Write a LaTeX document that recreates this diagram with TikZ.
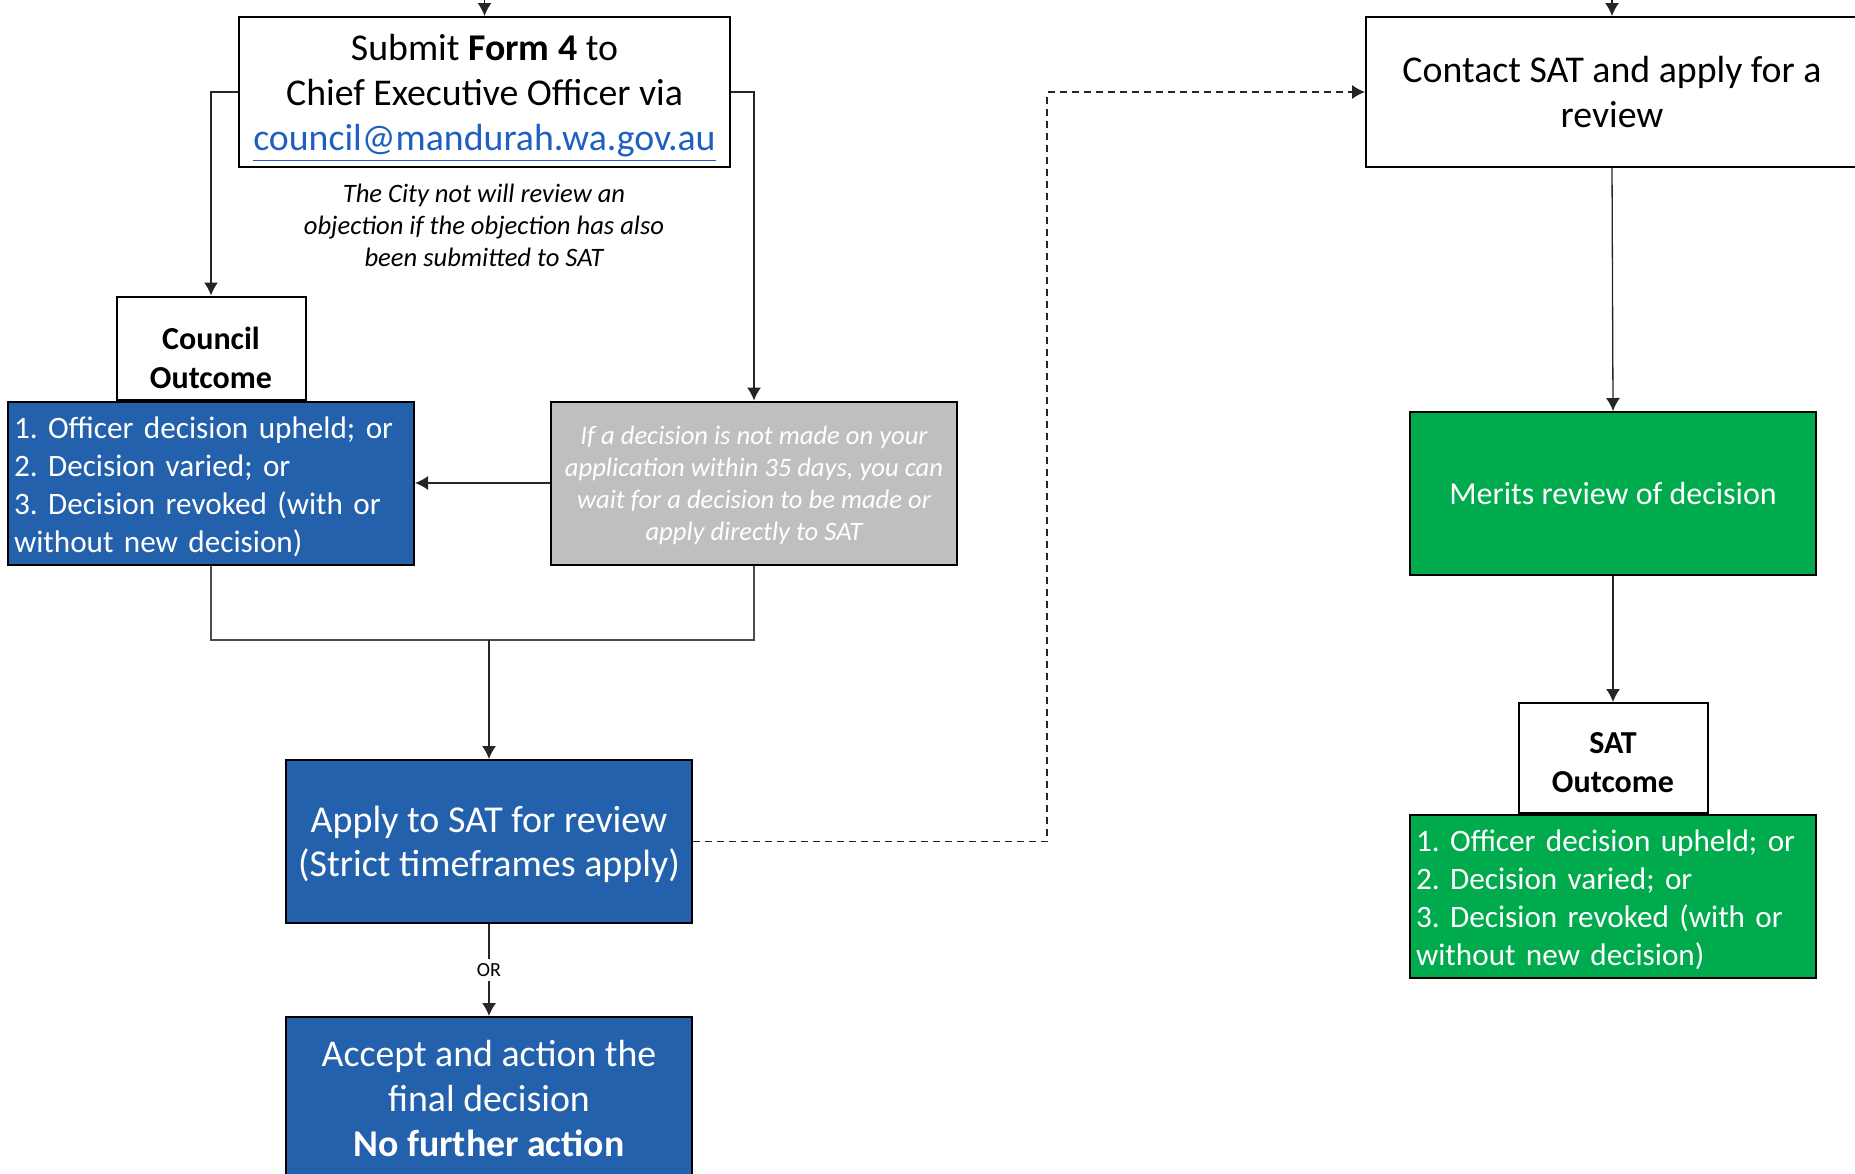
\documentclass[tikz,border=0pt]{standalone}
\usepackage{fontspec}
\setmainfont{Carlito}
\usetikzlibrary{arrows.meta,positioning}
\definecolor{boxblue}{HTML}{2461AD}
\definecolor{boxgreen}{HTML}{00AB4E}
\definecolor{boxgrey}{HTML}{BFBFBF}
\definecolor{linkblue}{HTML}{1F5FBF}
\frenchspacing

\begin{document}
\begin{tikzpicture}[x=0.5pt,y=-0.5pt,
	box/.style={draw=black,line width=1pt,align=center,inner sep=0pt},
	widebox/.style={box,minimum width=203pt,minimum height=81.5pt},
	listbox/.style={widebox,fill=#1},
	headbox/.style={box,fill=white,minimum width=94.5pt},
	boxtext/.style={align=center,inner sep=0pt},
	listtext/.style={boxtext,align=left,text width=197pt,text=white,font=\fontsize{15.6}{19}\selectfont},
	headtext/.style={boxtext,font=\fontsize{16}{19.5}\selectfont\bfseries},
	arr/.style={-{Latex[length=6.5pt,width=7pt]},black!85,line width=0.65pt},
	plain/.style={black!70,line width=0.65pt}]
	\def\big{\fontsize{18.9}{22.5}\selectfont}
	\def\small{\fontsize{13.3}{16}\selectfont\itshape}
	\useasboundingbox (0,0) rectangle (1855,1173);
	
	% left column
	\node[box,minimum width=245.5pt,minimum height=75pt] (submit) at (484.5,92) {};
	\node[boxtext,font=\big] (submittxt) at ([yshift=-3pt]submit.center)
		{Submit \textbf{Form 4} to\\Chief Executive Officer via\\{\color{linkblue}\underline{council@mandurah.wa.gov.au}}};
	\node[align=center,font=\small] (note) at (484,225)
		{The City not will review an\\objection if the objection has also\\been submitted to SAT};
	\node[listbox=boxblue] (clist) at (211,483) {};
	\node[listtext] (clisttxt) at ([yshift=-1.8pt]clist.center)
		{1. Officer decision upheld; or\\2. Decision varied; or\\3. Decision revoked (with or\\without new decision)};
	\node[headbox,minimum height=51.5pt,anchor=south] (council) at (clist.north) {};
	\node[headtext] (counciltxt) at ([yshift=-4.7pt]council.center) {Council\\Outcome};
	\node[widebox,fill=boxgrey] (wait) at (754,483) {};
	\node[boxtext,text=white,font=\small] (waittxt) at ([yshift=-1.2pt]wait.center)
		{If a decision is not made on your\\application within 35 days, you can\\wait for a decision to be made or\\apply directly to SAT};
	\node[widebox,fill=boxblue] (apply) at (489,841.5) {};
	\node[boxtext,text=white,font=\fontsize{19}{22}\selectfont] (applytxt) at ([yshift=-1.2pt]apply.center)
		{Apply to SAT for review\\(Strict timeframes apply)};
	\node[widebox,fill=boxblue,text=white,font=\big] (accept) at (489,1098.5)
		{Accept and action the\\final decision\\\textbf{No further action}};
	
	% right column
	\node[box,minimum width=246pt,minimum height=75pt,font=\big] (contact) at (1612,92)
		{Contact SAT and apply for a\\review};
	\node[widebox,fill=boxgreen,text=white,font=\fontsize{16}{19}\selectfont] (merits) at (1613,493.5)
		{Merits review of decision};
	\node[listbox=boxgreen] (slist) at (1613,896.5) {};
	\node[listtext] (slisttxt) at ([yshift=-1.8pt]slist.center)
		{1. Officer decision upheld; or\\2. Decision varied; or\\3. Decision revoked (with or\\without new decision)};
	\node[headbox,minimum height=55pt,anchor=south] (satout) at (slist.north) {};
	\node[headtext] (satouttxt) at ([yshift=-2.4pt]satout.center) {SAT\\Outcome};
	
	\coordinate (subin) at (484.5,-2);
	\coordinate (conin) at (1612,-2);
	\coordinate (join) at (489,640);
	\coordinate (dashx) at (1047,841.5);
	
	\draw[arr] (subin) -- (submit.north);
	\draw[arr] (conin) -- (contact.north);
	\draw[arr] (submit.west) -| (council.north);
	\draw[arr] (submit.east) -| (wait.north);
	\draw[arr] (wait.west) -- (clist.east);
	\draw[plain] (clist.south) |- (join) -| (wait.south);
	\draw[arr] (join) -- (apply.north);
	\draw[arr] (apply.south) -- node[fill=white,inner sep=2pt,text=black,font=\fontsize{10}{12}\selectfont] (or) {OR} (accept.north);
	\draw[arr,dashed,dash pattern=on 3.5pt off 2.5pt] (apply.east) -- (dashx) |- (contact.west);
	\draw[arr] (contact.south) -- (merits.north);
	\draw[arr] (merits.south) -- (satout.north);
\end{tikzpicture}
\end{document}
